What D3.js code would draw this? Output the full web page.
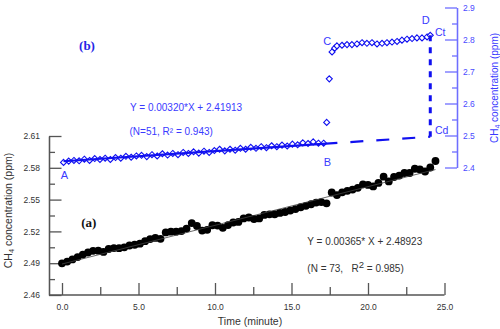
<!DOCTYPE html>
<html><head><meta charset="utf-8">
<script src="https://cdn.jsdelivr.net/npm/d3@7/dist/d3.min.js"></script>
<style>
body{margin:0;background:#fff;}
svg{display:block;font-family:Arial,"Liberation Sans",sans-serif;}
</style></head>
<body>
<svg id="c" width="500" height="329"></svg>
<script>
// ---- data ----
const blackTime = [0.00,0.34,0.68,1.02,1.36,1.70,2.03,2.37,2.71,3.05,3.39,3.73,4.07,4.41,4.75,5.09,5.43,5.76,6.10,6.44,6.78,7.12,7.46,7.80,8.14,8.48,8.82,9.16,9.49,9.83,10.17,10.51,10.85,11.19,11.53,11.87,12.21,12.55,12.89,13.22,13.56,13.90,14.24,14.58,14.92,15.26,15.60,15.94,16.28,16.61,16.95,17.29,17.63,17.97,18.31,18.65,18.99,19.33,19.67,20.00,20.34,20.68,21.02,21.36,21.70,22.04,22.38,22.72,23.06,23.39,23.73,24.07,24.41];
const blackConc = [2.4899,2.4915,2.4936,2.4958,2.4981,2.5001,2.5017,2.5018,2.5006,2.5034,2.5043,2.5042,2.5050,2.5067,2.5074,2.5084,2.5108,2.5128,2.5138,2.5130,2.5190,2.5197,2.5197,2.5203,2.5227,2.5279,2.5251,2.5208,2.5215,2.5258,2.5255,2.5234,2.5260,2.5284,2.5289,2.5322,2.5331,2.5317,2.5322,2.5355,2.5361,2.5362,2.5374,2.5383,2.5397,2.5411,2.5428,2.5441,2.5456,2.5472,2.5477,2.5465,2.5567,2.5543,2.5569,2.5583,2.5595,2.5611,2.5644,2.5638,2.5624,2.5657,2.5716,2.5671,2.5713,2.5727,2.5751,2.5751,2.5791,2.5784,2.5765,2.5803,2.5864];

const blueTime = [0.10,0.44,0.78,1.12,1.46,1.80,2.14,2.48,2.82,3.16,3.50,3.84,4.18,4.52,4.86,5.20,5.54,5.88,6.22,6.56,6.90,7.24,7.58,7.92,8.26,8.60,8.94,9.28,9.62,9.96,10.30,10.64,10.98,11.32,11.66,12.00,12.34,12.68,13.02,13.36,13.70,14.04,14.38,14.72,15.06,15.40,15.74,16.08,16.42,16.76,17.10,
  17.30,17.47,17.65,17.82,17.97,18.30,18.63,18.95,19.28,19.61,19.93,20.26,20.59,20.92,21.24,21.57,21.90,22.22,22.55,22.88,23.20,23.53,23.86,24.07];
const blueConc = [2.416,2.420,2.422,2.421,2.426,2.422,2.428,2.425,2.429,2.425,2.431,2.429,2.435,2.432,2.436,2.438,2.434,2.440,2.436,2.443,2.439,2.444,2.440,2.447,2.444,2.449,2.445,2.451,2.447,2.453,2.457,2.452,2.457,2.454,2.460,2.457,2.463,2.460,2.465,2.462,2.468,2.465,2.470,2.467,2.473,2.471,2.477,2.475,2.480,2.476,2.476,
  2.541,2.677,2.761,2.773,2.780,2.782,2.784,2.784,2.786,2.790,2.788,2.790,2.786,2.788,2.790,2.792,2.794,2.798,2.801,2.803,2.805,2.805,2.808,2.813];

const blackFit = {slope:0.00365, intercept:2.48923, t0:0, t1:24.41};
const blueFit = {slope:0.00320, intercept:2.41913, t0:0.1, tSolid:18.0, t1:24.07};

const xMajor = [0,5,10,15,20,25];
const xMinor = [2.5,7.5,12.5,17.5,22.5];
const yLMajor = [2.46,2.49,2.52,2.55,2.58,2.61];
const yLMinor = [2.475,2.505,2.535,2.565,2.595];
const yRMajor = [2.4,2.5,2.6,2.7,2.8,2.9];
const yRMinor = [2.45,2.55,2.65,2.75,2.85];

// ---- chart ----
const svg = d3.select("#c");
const x = d3.scaleLinear().domain([0,25]).range([62,444.5]);
const yL = d3.scaleLinear().domain([2.46,2.61]).range([295,136]);
const yR = d3.scaleLinear().domain([2.4,2.9]).range([167.5,7.5]);
const blue = "#1010f0", blueText = "#3a3aff", axisGray = "#555";

// left axis
const gL = svg.append("g").attr("transform","translate(49,0)");
gL.call(d3.axisLeft(yL).tickValues(yLMajor).tickSize(-12.5).tickSizeOuter(0).tickPadding(9).tickFormat(d3.format(".2f")));
gL.append("g").call(d3.axisLeft(yL).tickValues(yLMinor).tickSize(-6).tickSizeOuter(0).tickFormat(""));
gL.selectAll(".domain").attr("stroke",axisGray).attr("stroke-width",1.3);
gL.selectAll("line").attr("stroke",axisGray).attr("stroke-width",1.3);
gL.selectAll("text").attr("fill","#333").style("font-size","8.5px").attr("font-family",null);

// bottom axis
const gB = svg.append("g").attr("transform","translate(0,295)");
gB.call(d3.axisBottom(x).tickValues(xMajor).tickSize(-12).tickSizeOuter(0).tickPadding(9).tickFormat(d3.format(".1f")));
gB.append("g").call(d3.axisBottom(x).tickValues(xMinor).tickSize(-8).tickSizeOuter(0).tickFormat(""));
gB.selectAll(".domain").remove();
gB.append("line").attr("x1",49).attr("x2",x(25)).attr("stroke",axisGray).attr("stroke-width",1.3);
gB.selectAll("line").attr("stroke",axisGray).attr("stroke-width",1.3);
gB.selectAll("text").attr("fill","#333").style("font-size","8.5px").attr("font-family",null);

// right axis
const gR = svg.append("g").attr("transform","translate(457,0)");
gR.call(d3.axisRight(yR).tickValues(yRMajor).tickSize(-12).tickSizeOuter(0).tickPadding(6).tickFormat(d3.format(".1f")));
gR.append("g").call(d3.axisRight(yR).tickValues(yRMinor).tickSize(-5).tickSizeOuter(0).tickFormat(""));
gR.selectAll(".domain").attr("stroke","#6e6eff").attr("stroke-width",1.3);
gR.selectAll("line").attr("stroke","#6e6eff").attr("stroke-width",1.3);
gR.selectAll("text").attr("fill","#4a4aff").style("font-size","8.5px").attr("font-family",null);

// axis titles
function ch4Title(g, color, size){
  const t = g.append("text").attr("fill",color).style("font-size",size+"px");
  t.append("tspan").text("CH");
  t.append("tspan").attr("dy",2.5).style("font-size",(size*0.7)+"px").text("4");
  t.append("tspan").attr("dy",-2.5).text(" concentration (ppm)");
  return t;
}
ch4Title(svg.append("g").attr("transform","translate(11.5,210.5) rotate(-90)"), "#333", 10.5).attr("text-anchor","middle");
ch4Title(svg.append("g").attr("transform","translate(497.5,88) rotate(-90)"), blueText, 10).attr("text-anchor","middle");
svg.append("text").attr("x",250).attr("y",324.5).attr("text-anchor","middle").attr("fill","#333").style("font-size","10.5px").text("Time (minute)");

// black series
const black = blackTime.map((t,i)=>({t, v:blackConc[i]}));
svg.append("g").selectAll("circle").data(black).join("circle")
  .attr("cx",d=>x(d.t)).attr("cy",d=>yL(d.v)).attr("r",3.9).attr("fill","#000");
svg.append("line")
  .attr("x1",x(blackFit.t0)).attr("y1",yL(blackFit.intercept+blackFit.slope*blackFit.t0))
  .attr("x2",x(blackFit.t1)).attr("y2",yL(blackFit.intercept+blackFit.slope*blackFit.t1))
  .attr("stroke","#444").attr("stroke-width",0.8);

// blue series
const bl = blueTime.map((t,i)=>({t, v:blueConc[i]}));
const diamond = d3.symbol().type(d3.symbolDiamond2).size(23);
svg.append("g").selectAll("path").data(bl).join("path")
  .attr("transform",d=>`translate(${x(d.t)},${yR(d.v)})`)
  .attr("d",diamond).attr("fill","#fff").attr("stroke",blue).attr("stroke-width",1.1);
const fitY = t => yR(blueFit.intercept+blueFit.slope*t);
svg.append("line").attr("x1",x(blueFit.t0)).attr("y1",fitY(blueFit.t0))
  .attr("x2",x(blueFit.tSolid)).attr("y2",fitY(blueFit.tSolid))
  .attr("stroke",blue).attr("stroke-width",2.2);
svg.append("line").attr("x1",x(blueFit.tSolid)).attr("y1",fitY(blueFit.tSolid))
  .attr("x2",x(blueFit.t1)).attr("y2",fitY(blueFit.t1))
  .attr("stroke",blue).attr("stroke-width",2.2).attr("stroke-dasharray","13,13").attr("stroke-dashoffset",13);
const lastBlue = bl[bl.length-1];
svg.append("line").attr("x1",x(lastBlue.t)).attr("y1",yR(lastBlue.v))
  .attr("x2",x(lastBlue.t)).attr("y2",fitY(blueFit.t1))
  .attr("stroke",blue).attr("stroke-width",3).attr("stroke-dasharray","6,6");

// labels
const lab = (txt,xx,yy,opts={})=>{
  const t = svg.append("text").attr("x",xx).attr("y",yy).text(txt)
    .attr("fill",opts.fill||blueText).style("font-size",(opts.size||11)+"px")
    .attr("text-anchor",opts.anchor||"start");
  if(opts.serif) t.attr("font-family","'Liberation Serif','Times New Roman',serif").attr("font-weight","bold");
  return t;
};
lab("(b)",87,49.5,{anchor:"middle",size:13,serif:true,fill:"#2525e6"});
lab("(a)",88.8,226.5,{anchor:"middle",size:13,serif:true,fill:"#111"});
lab("Y = 0.00320*X + 2.41913",130,111,{size:10});
lab("(N=51, R\u00B2 = 0.943)",129.5,135,{size:10});
lab("A",64.3,179,{anchor:"middle"});
lab("B",327.3,165.7,{anchor:"middle"});
lab("C",327.3,44.7,{anchor:"middle"});
lab("D",425.7,24,{anchor:"middle"});
lab("Ct",435,35.5,{size:10.5});
lab("Cd",435,134,{size:10.5});
lab("Y = 0.00365* X + 2.48923",307.3,244.8,{size:10,fill:"#333"});
const n = lab("(N = 73,   R",307.3,272,{size:10,fill:"#333"}).style("white-space","pre");
n.append("tspan").attr("dy",-4).style("font-size","9.5px").text("2");
n.append("tspan").attr("dy",4).text(" = 0.985)");
</script>
</body></html>
